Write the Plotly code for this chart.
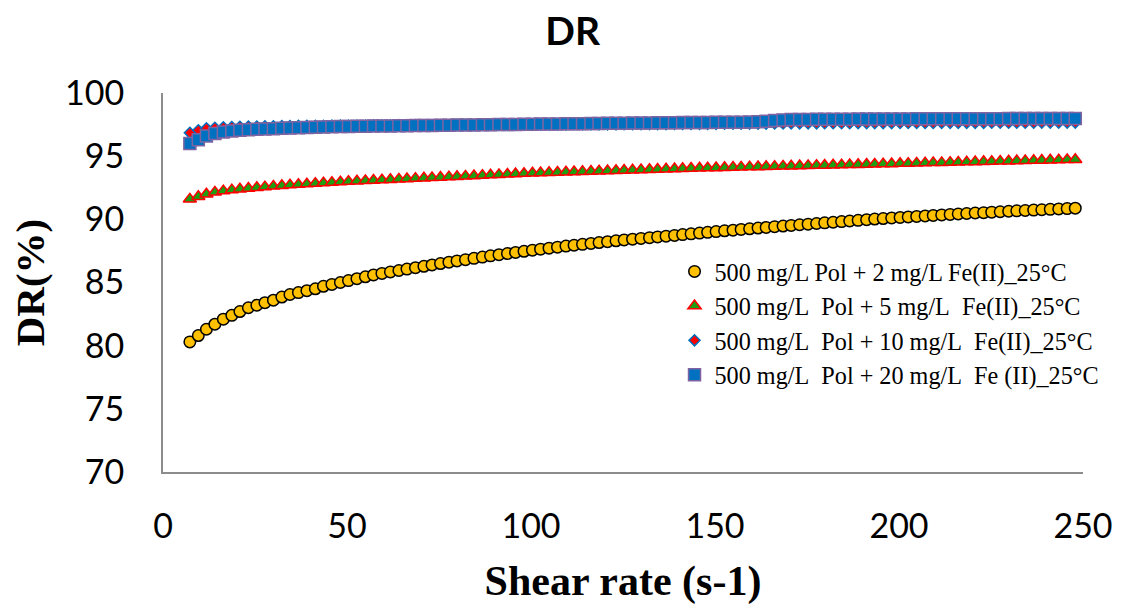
import plotly.graph_objects as go

shear_rate = [7.3, 9.6, 11.8, 14.1, 16.4, 18.7, 20.9, 23.2, 25.5, 27.7,
              30.0, 32.3, 34.5, 36.8, 39.1, 41.4, 43.6, 45.9, 48.2, 50.4,
              52.7, 55.0, 57.2, 59.5, 61.8, 64.1, 66.3, 68.6, 70.9, 73.1,
              75.4, 77.7, 79.9, 82.2, 84.5, 86.8, 89.0, 91.3, 93.6, 95.8,
              98.1, 100.4, 102.6, 104.9, 107.2, 109.5, 111.7, 114.0, 116.3, 118.5,
              120.8, 123.1, 125.3, 127.6, 129.9, 132.2, 134.4, 136.7, 139.0, 141.2,
              143.5, 145.8, 148.0, 150.3, 152.6, 154.9, 157.1, 159.4, 161.7, 163.9,
              166.2, 168.5, 170.7, 173.0, 175.3, 177.6, 179.8, 182.1, 184.4, 186.6,
              188.9, 191.2, 193.4, 195.7, 198.0, 200.3, 202.5, 204.8, 207.1, 209.3,
              211.6, 213.9, 216.1, 218.4, 220.7, 223.0, 225.2, 227.5, 229.8, 232.0,
              234.3, 236.6, 238.8, 241.1, 243.4, 245.7, 247.9]

dr_fe2 = [80.3, 80.8, 81.3, 81.7, 82.1, 82.4, 82.7, 83.0, 83.2, 83.4,
          83.6, 83.85, 84.05, 84.2, 84.35, 84.5, 84.7, 84.85, 85.0, 85.15,
          85.3, 85.45, 85.6, 85.72, 85.84, 85.95, 86.06, 86.17, 86.28, 86.39,
          86.5, 86.61, 86.71, 86.81, 86.91, 87.01, 87.11, 87.2, 87.29, 87.38,
          87.47, 87.56, 87.64, 87.72, 87.8, 87.88, 87.95, 88.02, 88.09, 88.16,
          88.23, 88.3, 88.37, 88.43, 88.49, 88.55, 88.61, 88.67, 88.73, 88.79,
          88.85, 88.91, 88.97, 89.03, 89.09, 89.14, 89.2, 89.25, 89.31, 89.36,
          89.42, 89.47, 89.52, 89.57, 89.62, 89.67, 89.72, 89.77, 89.82, 89.87,
          89.92, 89.97, 90.02, 90.06, 90.11, 90.15, 90.19, 90.23, 90.27, 90.31,
          90.35, 90.39, 90.43, 90.46, 90.5, 90.53, 90.57, 90.6, 90.64, 90.67,
          90.7, 90.73, 90.76, 90.79, 90.82, 90.85, 90.88]

dr_fe5 = [91.6, 91.8, 92.0, 92.15, 92.25, 92.33, 92.4, 92.46, 92.52, 92.57,
          92.62, 92.67, 92.72, 92.76, 92.8, 92.84, 92.88, 92.92, 92.96, 93.0,
          93.03, 93.06, 93.09, 93.12, 93.15, 93.18, 93.21, 93.24, 93.27, 93.3,
          93.33, 93.36, 93.39, 93.42, 93.45, 93.48, 93.51, 93.54, 93.57, 93.6,
          93.63, 93.66, 93.68, 93.7, 93.72, 93.74, 93.76, 93.78, 93.8, 93.82,
          93.84, 93.86, 93.88, 93.9, 93.92, 93.94, 93.96, 93.98, 94.0, 94.02,
          94.04, 94.06, 94.07, 94.08, 94.1, 94.12, 94.13, 94.15, 94.16, 94.18,
          94.19, 94.21, 94.22, 94.24, 94.25, 94.27, 94.28, 94.3, 94.31, 94.33,
          94.34, 94.36, 94.37, 94.39, 94.4, 94.42, 94.43, 94.45, 94.46, 94.48,
          94.49, 94.51, 94.52, 94.54, 94.55, 94.57, 94.58, 94.6, 94.61, 94.63,
          94.64, 94.66, 94.67, 94.69, 94.7, 94.72, 94.73]

dr_fe10 = [96.85, 97.05, 97.2, 97.25, 97.28, 97.3, 97.32, 97.34, 97.35, 97.36,
           97.37, 97.38, 97.39, 97.4, 97.4, 97.41, 97.41, 97.42, 97.42, 97.43,
           97.43, 97.43, 97.44, 97.44, 97.44, 97.45, 97.45, 97.45, 97.46, 97.46,
           97.46, 97.46, 97.47, 97.47, 97.47, 97.48, 97.48, 97.48, 97.48, 97.49,
           97.49, 97.49, 97.5, 97.5, 97.5, 97.5, 97.51, 97.51, 97.51, 97.52,
           97.52, 97.52, 97.53, 97.53, 97.53, 97.54, 97.54, 97.54, 97.55, 97.55,
           97.55, 97.56, 97.56, 97.56, 97.57, 97.57, 97.57, 97.58, 97.58, 97.58,
           97.59, 97.59, 97.6, 97.6, 97.6, 97.6, 97.61, 97.61, 97.61, 97.61,
           97.62, 97.62, 97.62, 97.62, 97.62, 97.63, 97.63, 97.63, 97.63, 97.63,
           97.64, 97.64, 97.64, 97.64, 97.64, 97.64, 97.65, 97.65, 97.65, 97.65,
           97.65, 97.65, 97.66, 97.66, 97.66, 97.66, 97.66]

dr_fe20 = [96.0, 96.3, 96.6, 96.8, 96.92, 97.0, 97.06, 97.1, 97.13, 97.16,
           97.18, 97.2, 97.22, 97.24, 97.26, 97.28, 97.3, 97.32, 97.34, 97.35,
           97.36, 97.37, 97.38, 97.39, 97.39, 97.4, 97.41, 97.42, 97.43, 97.43,
           97.44, 97.45, 97.46, 97.47, 97.47, 97.48, 97.49, 97.5, 97.5, 97.51,
           97.52, 97.53, 97.54, 97.54, 97.55, 97.56, 97.57, 97.57, 97.58, 97.59,
           97.6, 97.6, 97.61, 97.62, 97.63, 97.63, 97.64, 97.65, 97.65, 97.66,
           97.66, 97.67, 97.67, 97.68, 97.68, 97.69, 97.69, 97.7, 97.72, 97.76,
           97.82, 97.87, 97.9, 97.91, 97.91, 97.92, 97.92, 97.93, 97.93, 97.93,
           97.94, 97.94, 97.94, 97.95, 97.95, 97.95, 97.95, 97.96, 97.96, 97.96,
           97.96, 97.96, 97.97, 97.97, 97.97, 97.97, 97.97, 97.97, 97.98, 97.98,
           97.98, 97.98, 97.98, 97.98, 97.98, 97.98, 97.98]

series_names = [
    "500 mg/L Pol + 2 mg/L Fe(II)_25°C",
    "500 mg/L\u00a0 Pol + 5 mg/L\u00a0 Fe(II)_25°C",
    "500 mg/L\u00a0 Pol + 10 mg/L\u00a0 Fe(II)_25°C",
    "500 mg/L\u00a0 Pol + 20 mg/L\u00a0 Fe (II)_25°C",
]

x_ticks = [0, 50, 100, 150, 200, 250]
y_ticks = [70, 75, 80, 85, 90, 95, 100]

fig = go.Figure()
fig.add_trace(go.Scatter(x=shear_rate, y=dr_fe2, mode="markers", name=series_names[0],
                         marker=dict(symbol="circle", size=11.5, color="#FFC000",
                                     line=dict(color="#000000", width=1.5))))
fig.add_trace(go.Scatter(x=shear_rate, y=dr_fe5, mode="markers", name=series_names[1],
                         marker=dict(symbol="triangle-up", size=11.5, color="#1E9E10",
                                     line=dict(color="#FF0000", width=1.5))))
fig.add_trace(go.Scatter(x=shear_rate, y=dr_fe10, mode="markers", name=series_names[2],
                         marker=dict(symbol="diamond", size=8.5, color="#FF0000",
                                     line=dict(color="#0070C0", width=1.5))))
fig.add_trace(go.Scatter(x=shear_rate, y=dr_fe20, mode="markers", name=series_names[3],
                         marker=dict(symbol="square", size=12, color="#0070C0",
                                     line=dict(color="#8064A2", width=1.5))))

fig.update_layout(
    width=1123, height=609,
    paper_bgcolor="white", plot_bgcolor="white",
    margin=dict(l=163, r=40, t=93, b=137, autoexpand=False),
    title=dict(text="<b>DR</b>", x=0.51, xanchor="center", y=0.948, yanchor="middle",
               font=dict(family="Lato", size=39, color="black")),
    showlegend=True,
    legend=dict(x=0.556, y=0.588, xanchor="left", yanchor="top",
                bgcolor="rgba(0,0,0,0)", borderwidth=0, itemwidth=30,
                font=dict(family="Liberation Serif", size=24.2, color="black")),
    xaxis=dict(range=[0, 250], tickvals=x_ticks, ticks="", showgrid=False, zeroline=False,
               showline=True, linecolor="#8C8C8C", linewidth=2,
               tickfont=dict(family="Lato", size=34, color="black"),
               ticklabelstandoff=23,
               title=dict(text="<b>Shear rate (s-1)</b>", standoff=22,
                          font=dict(family="Liberation Serif", size=42, color="black"))),
    yaxis=dict(range=[70, 100], tickvals=y_ticks, ticks="", showgrid=False, zeroline=False,
               showline=True, linecolor="#8C8C8C", linewidth=2,
               tickfont=dict(family="Lato", size=34, color="black"),
               ticklabelstandoff=30,
               title=dict(text="<b>DR(%)</b>", standoff=8,
                          font=dict(family="Liberation Serif", size=41, color="black"))),
)

fig.write_html("out.html")
